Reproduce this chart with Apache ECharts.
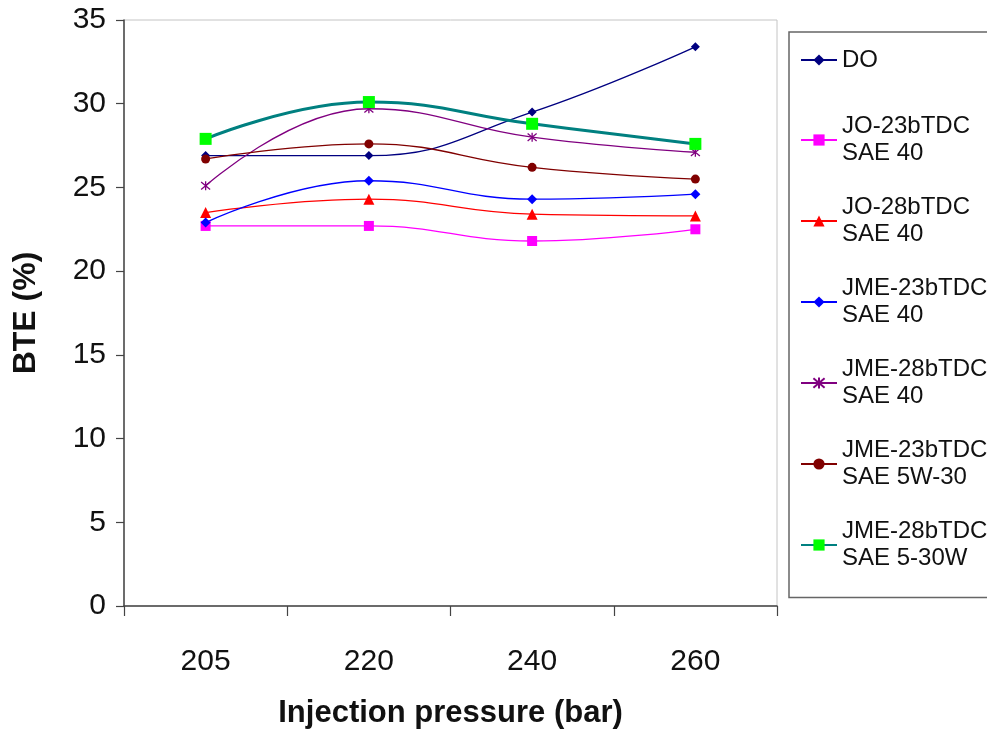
<!DOCTYPE html>
<html>
<head>
<meta charset="utf-8">
<script src="https://cdn.jsdelivr.net/npm/echarts@6/dist/echarts.min.js"></script>
<style>
html,body{margin:0;padding:0;background:#fff;}
#chart{width:987px;height:729px;}
</style>
</head>
<body>
<div id="chart"></div>
<script>
var categories = ['205', '220', '240', '260'];
var yTicks = [0, 5, 10, 15, 20, 25, 30, 35];
var seriesNames = ['DO', 'JO-23bTDC\nSAE 40', 'JO-28bTDC\nSAE 40', 'JME-23bTDC\nSAE 40', 'JME-28bTDC\nSAE 40', 'JME-23bTDC\nSAE 5W-30', 'JME-28bTDC\nSAE 5-30W'];
var doValues       = [26.9, 26.9, 29.5, 33.4];
var jo23sae40      = [22.7, 22.7, 21.8, 22.5];
var jo28sae40      = [23.5, 24.3, 23.4, 23.3];
var jme23sae40     = [22.9, 25.4, 24.3, 24.6];
var jme28sae40     = [25.1, 29.7, 28.0, 27.1];
var jme23sae5w30   = [26.7, 27.6, 26.2, 25.5];
var jme28sae530w   = [27.9, 30.1, 28.8, 27.6];

var FONT = 'Liberation Sans, Arial, sans-serif';
var star = 'path://M0,0L10,10M10,0L0,10M5,-1L5,11';

function line(name, data, color, symbol, size, lw, extra) {
  var s = {
    name: name, type: 'line', data: data, smooth: 0.45,
    symbol: symbol, symbolSize: size,
    itemStyle: { color: color },
    lineStyle: { color: color, width: lw },
    emphasis: { disabled: true }
  };
  if (extra) extra(s);
  return s;
}

var series = [
  line(seriesNames[0], doValues, '#000080', 'diamond', 9, 1.3),
  line(seriesNames[1], jo23sae40, '#FF00FF', 'rect', 10, 1.3),
  line(seriesNames[2], jo28sae40, '#FF0000', 'triangle', 11, 1.3),
  line(seriesNames[3], jme23sae40, '#0000FF', 'diamond', 10, 1.3),
  line(seriesNames[4], jme28sae40, '#800080', star, 9, 1.3, function (s) {
    s.itemStyle = { color: '#800080', borderColor: '#800080', borderWidth: 1.3 };
  }),
  line(seriesNames[5], jme23sae5w30, '#800000', 'circle', 9, 1.3),
  line(seriesNames[6], jme28sae530w, '#008080', 'rect', 12, 3, function (s) {
    s.itemStyle = { color: '#00FF00' };
    s.lineStyle = { color: '#008080', width: 3 };
  })
];

var LH = 27;
var legendData = seriesNames.map(function (n, i) {
  return {
    name: n,
    textStyle: { padding: i === 0 ? [26, 0, 26, 0] : [LH, 0, 0, 0] }
  };
});

var chart = echarts.init(document.getElementById('chart'), null, { renderer: 'canvas' });
chart.setOption({
  animation: false,
  backgroundColor: '#fff',
  grid: {
    left: 124, right: 210, top: 20, bottom: 123,
    outerBoundsMode: 'none',
    containLabel: false,
    show: true, borderColor: '#c4c4c4', borderWidth: 1
  },
  legend: {
    orient: 'vertical',
    left: 789, top: 32,
    padding: [-11.5, 10, 12, 11],
    itemGap: 0,
    itemWidth: 36, itemHeight: 14,
    selectedMode: false,
    borderColor: '#666', borderWidth: 1.5,
    backgroundColor: '#fff',
    textStyle: { fontFamily: FONT, fontSize: 24, lineHeight: LH, color: '#111' },
    data: legendData
  },
  xAxis: {
    type: 'category',
    data: categories,
    boundaryGap: true,
    name: 'Injection pressure (bar)',
    nameLocation: 'middle',
    nameGap: 92,
    nameTextStyle: { fontFamily: FONT, fontSize: 31, fontWeight: 'bold', color: '#111' },
    axisLine: { lineStyle: { color: '#444', width: 1.5 } },
    axisTick: { show: true, length: 10, alignWithLabel: false, lineStyle: { color: '#444', width: 1.2 } },
    axisLabel: { margin: 41, fontFamily: FONT, fontSize: 30, color: '#111' },
    splitLine: { show: false }
  },
  yAxis: {
    type: 'value',
    min: yTicks[0], max: yTicks[yTicks.length - 1], interval: 5,
    name: 'BTE (%)',
    nameLocation: 'middle',
    nameGap: 82,
    nameTextStyle: { fontFamily: FONT, fontSize: 32, fontWeight: 'bold', color: '#111' },
    axisLine: { show: true, lineStyle: { color: '#444', width: 1.5 } },
    axisTick: { show: true, length: 8, lineStyle: { color: '#444', width: 1.2 } },
    axisLabel: { margin: 18, padding: [3, 0, 0, 0], fontFamily: FONT, fontSize: 30, color: '#111' },
    splitLine: { show: false }
  },
  series: series
});
</script>
</body>
</html>
